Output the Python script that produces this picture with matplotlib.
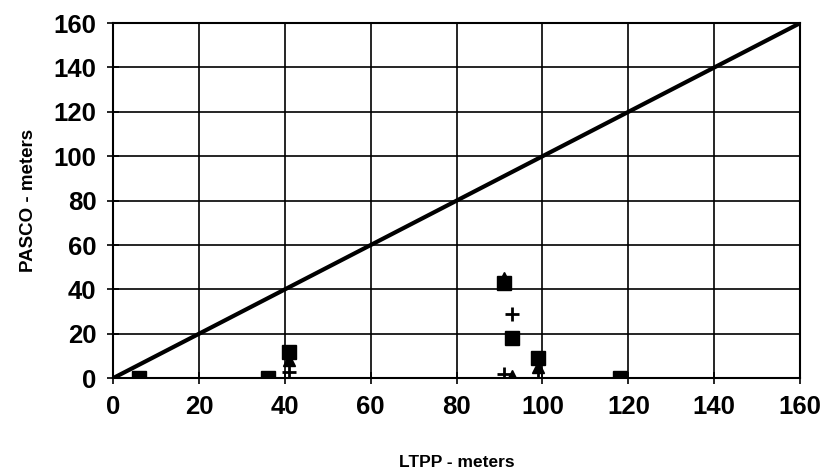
import matplotlib
matplotlib.use("Agg")
import matplotlib.pyplot as plt

plt.rcParams['font.family'] = ['Liberation Sans', 'DejaVu Sans']

# Equality line
line_x = [0, 160]
line_y = [0, 160]

# Series (LTPP vs PASCO, meters)
sq_x = [6, 36, 41, 91, 93, 99, 118]
sq_y = [0, 0, 12, 43, 18, 9, 0]
tri_x = [6, 36, 41, 91, 93, 99, 118]
tri_y = [0, 0, 8, 45, 1, 5, 0]
plus_x = [6, 36, 41, 93, 91, 99, 118]
plus_y = [0, 0, 3, 29, 2, 0, 0]

xticks = [0, 20, 40, 60, 80, 100, 120, 140, 160]
yticks = [0, 20, 40, 60, 80, 100, 120, 140, 160]

fig = plt.figure(figsize=(8.37, 4.71), dpi=100)
ax = fig.add_axes([0.135, 0.197, 0.821, 0.754])

ax.plot(line_x, line_y, color='black', lw=3, zorder=3)
ax.plot(tri_x, tri_y, '^', color='black', ms=8, zorder=4, ls='none')
ax.plot(sq_x, sq_y, 's', color='black', ms=10, zorder=5, ls='none')
ax.plot(plus_x, plus_y, '+', color='black', ms=10, mew=2, zorder=5, ls='none')

ax.set_xlim(0, 160)
ax.set_ylim(0, 160)
ax.set_xticks(xticks)
ax.set_yticks(yticks)
ax.grid(True, color='black', lw=1.2)
ax.set_axisbelow(True)
for s in ax.spines.values():
    s.set_color('black')
    s.set_linewidth(1.5)
ax.tick_params(direction='inout', length=8, width=1.2, labelsize=18.5, pad=8)
for lab in ax.get_xticklabels() + ax.get_yticklabels():
    lab.set_fontweight('bold')

ax.set_xlabel('LTPP - meters', fontsize=12.5, fontweight='bold', labelpad=26)
ax.set_ylabel('PASCO - meters', fontsize=13.5, fontweight='bold', labelpad=12)

fig.savefig('out.png', dpi=100)
